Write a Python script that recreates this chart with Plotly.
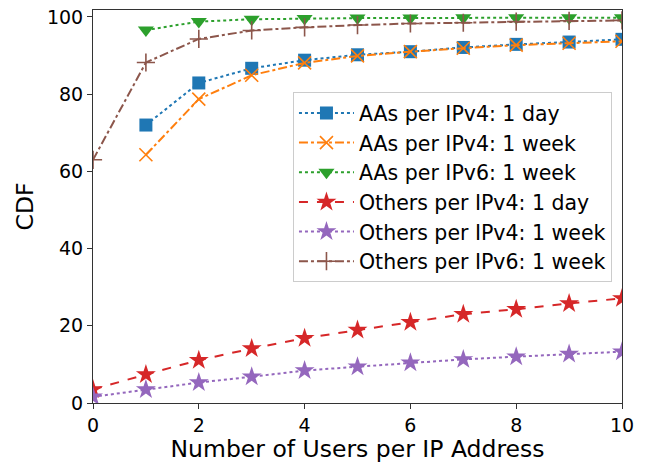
import plotly.graph_objects as go

x_all = [0, 1, 2, 3, 4, 5, 6, 7, 8, 9, 10]
x_aa = [1, 2, 3, 4, 5, 6, 7, 8, 9, 10]

aa_v4_day = [72.0, 82.9, 86.7, 88.8, 90.2, 91.0, 92.1, 92.9, 93.5, 94.2]
aa_v4_week = [64.3, 78.7, 84.9, 88.1, 89.9, 91.0, 91.9, 92.7, 93.2, 93.7]
aa_v6_week = [96.6, 98.8, 99.4, 99.6, 99.7, 99.7, 99.8, 99.8, 99.8, 99.8]
oth_v4_day = [3.5, 7.4, 11.1, 14.1, 16.8, 18.9, 20.9, 23.0, 24.3, 25.8, 27.1]
oth_v4_week = [1.6, 3.5, 5.3, 6.8, 8.4, 9.4, 10.4, 11.3, 12.0, 12.7, 13.3]
oth_v6_week = [63.0, 88.2, 94.3, 96.5, 97.3, 97.9, 98.3, 98.5, 98.8, 99.0, 99.1]

series = [
    ("AAs per IPv4: 1 day", x_aa, aa_v4_day, "#1f77b4", "dot", "square", 13, None),
    ("AAs per IPv4: 1 week", x_aa, aa_v4_week, "#ff7f0e", "dashdot", "x-thin-open", 13, 1.6),
    ("AAs per IPv6: 1 week", x_aa, aa_v6_week, "#2ca02c", "dot", "triangle-down", 14, None),
    ("Others per IPv4: 1 day", x_all, oth_v4_day, "#d62728", "dash", "star", 15, None),
    ("Others per IPv4: 1 week", x_all, oth_v4_week, "#9467bd", "dot", "star", 15, None),
    ("Others per IPv6: 1 week", x_all, oth_v6_week, "#8c564b", "dashdot", "cross-thin-open", 13, 1.6),
]

fig = go.Figure()
for i, (name, xs, ys, color, dash, sym, size, lw) in enumerate(series):
    marker = dict(symbol=sym, size=size, color=color)
    if lw:
        marker["line"] = dict(color=color, width=lw)
    fig.add_trace(go.Scatter(
        x=xs, y=ys, name=name, mode="lines+markers", legendgroup=f"g{i}",
        line=dict(color=color, dash=dash, width=2),
        marker=marker, cliponaxis=True,
    ))

axis_common = dict(
    showline=True, linecolor="#333333", linewidth=1, mirror=True,
    ticks="outside", ticklen=5, tickcolor="#333333", showgrid=False, zeroline=False,
    tickfont=dict(size=19, color="black"), automargin=False,
)
fig.update_xaxes(range=[0, 10], tickvals=[0, 2, 4, 6, 8, 10],
                 title=dict(text="Number of Users per IP Address", font=dict(size=23.5, color="black"), standoff=5),
                 **axis_common)
fig.update_yaxes(range=[0, 101.8], tickvals=[0, 20, 40, 60, 80, 100],
                 title=dict(text="CDF", font=dict(size=23.5, color="black"), standoff=6),
                 **axis_common)

fig.update_layout(
    width=646, height=463,
    margin=dict(l=93, r=24, t=10, b=60),
    paper_bgcolor="white", plot_bgcolor="white",
    font=dict(family="DejaVu Sans", color="black"),
    showlegend=True,
    legend=dict(x=0.378, y=0.791, xanchor="left", yanchor="top",
                bgcolor="rgba(255,255,255,0.8)", bordercolor="#cccccc", borderwidth=1,
                font=dict(size=20.5), itemwidth=55, tracegroupgap=0),
)

fig.write_html("out.html")
